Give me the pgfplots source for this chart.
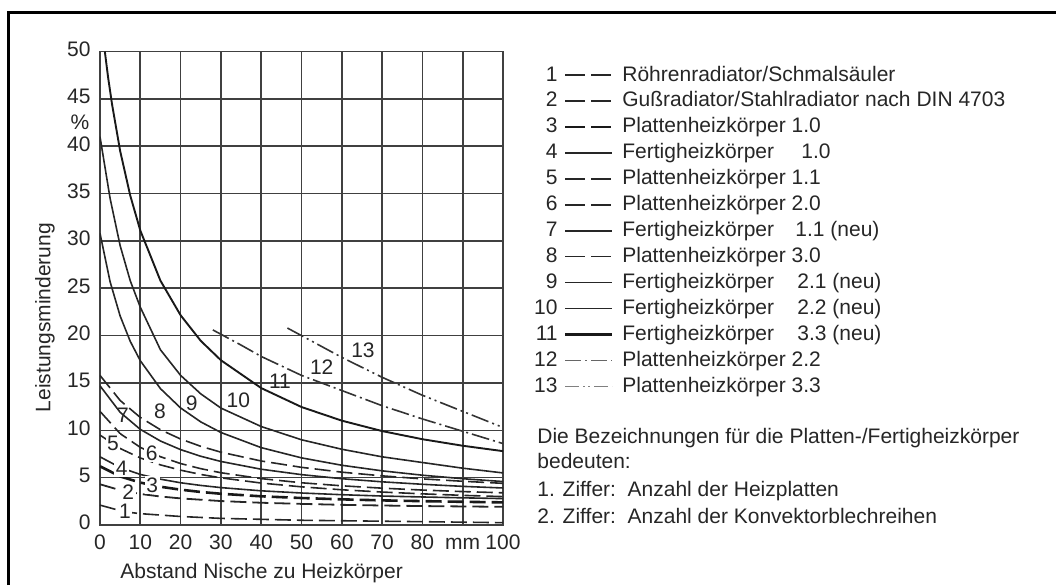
\documentclass[border=0pt]{standalone}
\usepackage{fontspec}
\setmainfont{Liberation Sans}
\usepackage{pgfplots}
\pgfplotsset{compat=1.18}

% Leistungsminderung in %, Abstand in mm
\pgfplotstableread{
x y
0 2.1
6 1.4
10 1.2
20 0.9
30 0.7
40 0.6
50 0.5
60 0.45
70 0.4
80 0.35
90 0.3
100 0.25
}\curveA
\pgfplotstableread{
x y
0 4.3
5 3.68
10 3.28
15 3.01
20 2.81
30 2.53
40 2.35
50 2.23
60 2.13
70 2.06
80 2.0
90 1.96
100 1.92
}\curveB
\pgfplotstableread{
x y
0 6.2
5 5.13
10 4.48
15 4.04
20 3.73
25 3.49
30 3.3
40 3.03
50 2.85
60 2.71
70 2.6
80 2.52
90 2.45
100 2.39
}\curveC
\pgfplotstableread{
x y
0 7.2
5 6.07
10 5.34
15 4.84
20 4.46
25 4.18
30 3.95
40 3.61
50 3.38
60 3.2
70 3.06
80 2.96
90 2.87
100 2.79
}\curveD
\pgfplotstableread{
x y
0 9.5
5 8.08
10 7.08
15 6.35
20 5.79
25 5.34
30 4.98
40 4.43
50 4.03
60 3.72
70 3.48
80 3.29
90 3.13
100 3.0
}\curveE
\pgfplotstableread{
x y
0 12.0
5 9.65
10 8.2
15 7.21
20 6.49
25 5.95
30 5.52
40 4.9
50 4.46
60 4.14
70 3.89
80 3.69
90 3.53
100 3.4
}\curveF
\pgfplotstableread{
x y
0 14.7
5 11.9
10 10.1
15 8.87
20 7.96
25 7.26
30 6.71
40 5.89
50 5.32
60 4.89
70 4.56
80 4.3
90 4.08
100 3.91
}\curveG
\pgfplotstableread{
x y
0 15.8
5 13.15
10 11.36
15 10.06
20 9.08
25 8.31
30 7.69
40 6.76
50 6.09
60 5.58
70 5.19
80 4.87
90 4.62
100 4.4
}\curveH
\pgfplotstableread{
x y
0 30.8
2.5 25.7
5 22.07
7.5 19.4
10 17.35
15 14.4
20 12.36
25 10.89
30 9.77
40 8.17
50 7.09
60 6.31
70 5.72
80 5.26
90 4.89
100 4.59
}\curveI
\pgfplotstableread{
x y
0 41.0
2.5 34.5
5 29.5
7.5 25.8
10 23.0
15 18.5
20 15.8
25 13.85
30 12.35
40 10.4
50 9.0
60 8.0
70 7.2
80 6.6
90 6.0
100 5.5
}\curveJ
\pgfplotstableread{
x y
1.2 50.0
2 47.3
3 44.4
5 39.5
7.5 34.8
10 31.1
15 25.8
20 22.15
25 19.45
30 17.4
40 14.46
50 12.46
60 11.02
70 9.92
80 9.06
90 8.37
100 7.8
}\curveK
\pgfplotstableread{
x y
28 20.6
35 19.0
40 17.8
50 15.8
60 14.2
70 12.6
80 11.2
90 9.9
100 8.6
}\curveL
\pgfplotstableread{
x y
46.5 20.8
50 20.0
60 17.7
70 15.6
80 13.7
90 12.0
100 10.3
}\curveM

\begin{document}
\fontsize{10.5}{12}\selectfont
\begin{tikzpicture}
\useasboundingbox (0,0) rectangle (528pt,-292.5pt);
\draw[line width=1.5pt] (4pt,-292.5pt) -- (4pt,-6pt) -- (528pt,-6pt);

\begin{axis}[
at={(50pt,-262.5pt)}, anchor=south west,
scale only axis,
width=201.5pt, height=236.75pt,
xmin=0, xmax=100, ymin=0, ymax=50,
xtick={0,10,...,100},
xticklabels={0,10,20,30,40,50,60,70,80,mm,100},
ytick={0,5,...,50},
major tick length=0pt,
xmajorgrids, ymajorgrids,
grid style={line width=0.8pt, black!75},
axis line style={line width=0.9pt, black!75},
tick label style={font=\fontsize{10.5}{12}\selectfont, black!85},
typeset ticklabels with strut,
/pgf/number format/assume math mode=true,
yticklabel style={xshift=-1pt},
clip=true,
]
\addplot[black!85, line width=0.8pt, dash pattern=on 8pt off 3pt] table {\curveA};
\addplot[black!85, line width=0.9pt, dash pattern=on 8pt off 3pt] table {\curveB};
\addplot[black!90, line width=1.3pt, dash pattern=on 8pt off 3pt] table {\curveC};
\addplot[black!85, line width=0.8pt] table {\curveD};
\addplot[black!85, line width=0.8pt, dash pattern=on 8pt off 3pt] table {\curveE};
\addplot[black!85, line width=0.8pt, dash pattern=on 8pt off 3pt] table {\curveF};
\addplot[black!85, line width=0.8pt] table {\curveG};
\addplot[black!85, line width=0.8pt, dash pattern=on 8pt off 3pt] table {\curveH};
\addplot[black!85, line width=0.8pt] table {\curveI};
\addplot[black!85, line width=0.8pt] table {\curveJ};
\addplot[black!90, line width=0.95pt] table {\curveK};
\addplot[black!80, line width=0.8pt, dash pattern=on 9pt off 2pt on 1pt off 2pt] table {\curveL};
\addplot[black!80, line width=0.8pt, dash pattern=on 9pt off 2pt on 1pt off 2pt on 1pt off 2pt] table {\curveM};
\end{axis}

\begin{scope}[x=0.5pt, y=-0.5pt, every node/.style={inner sep=0pt, text=black!85}]
% curve numbers
\foreach \px/\py/\t in {125/511.7/1, 128.3/491.7/2, 152.3/485/3, 121.7/468.3/4, 113/443/5, 151.7/453.3/6}
  \node[fill=white, inner sep=0.8pt] at (\px,\py) {\t};
\foreach \px/\py/\t in {123/415/7, 160/411.7/8, 191.7/403.3/9, 238.3/400/10, 280/381.7/11, 321.7/366.7/12, 363/350/13}
  \node at (\px,\py) {\t};
% axis texts
\node at (80,122) {\%};
\node[rotate=90] at (45,317.5) {Leistungsminderung};
\node[anchor=base west] at (120,578) {Abstand Nische zu Heizk\"orper};
% key
\foreach \n/\t [count=\i from 0] in {1/{R\"ohrenradiator/Schmals\"auler}, 2/{Gu\ss radiator/Stahlradiator nach DIN 4703}, 3/{Plattenheizk\"orper 1.0}, 4/{Fertigheizk\"orper}, 5/{Plattenheizk\"orper 1.1}, 6/{Plattenheizk\"orper 2.0}, 7/{Fertigheizk\"orper}, 8/{Plattenheizk\"orper 3.0}, 9/{Fertigheizk\"orper}, 10/{Fertigheizk\"orper}, 11/{Fertigheizk\"orper}, 12/{Plattenheizk\"orper 2.2}, 13/{Plattenheizk\"orper 3.3}}
{
  \node[anchor=base east] at (558, 81+25.95*\i) {\n};
  \node[anchor=base west] at (622, 81+25.95*\i) {\t};
}
\foreach \i/\t/\px in {3/{1.0}/801, 6/{1.1 (neu)}/795, 8/{2.1 (neu)}/797, 9/{2.2 (neu)}/797, 10/{3.3 (neu)}/797}
  \node[anchor=base west] at (\px, 81+25.95*\i) {\t};
\draw[black!85, line width=0.8pt, dash pattern=on 10pt off 3pt] (565,75) -- (612,75);
\draw[black!85, line width=1.0pt, dash pattern=on 10pt off 3pt] (565,100.95) -- (612,100.95);
\draw[black!90, line width=1.4pt, dash pattern=on 10pt off 3pt] (565,126.9) -- (612,126.9);
\draw[black!85, line width=0.8pt] (565,152.85) -- (612,152.85);
\draw[black!85, line width=0.8pt, dash pattern=on 10pt off 3pt] (565,178.8) -- (612,178.8);
\draw[black!85, line width=0.8pt, dash pattern=on 10pt off 3pt] (565,204.75) -- (612,204.75);
\draw[black!85, line width=0.8pt] (565,230.7) -- (612,230.7);
\draw[black!85, line width=0.8pt, dash pattern=on 10pt off 3pt] (565,256.65) -- (612,256.65);
\draw[black!85, line width=0.8pt] (565,282.6) -- (612,282.6);
\draw[black!85, line width=0.8pt] (565,308.55) -- (612,308.55);
\draw[black!90, line width=1.3pt] (565,334.5) -- (612,334.5);
\draw[black!60, line width=0.8pt, dash pattern=on 8pt off 2pt on 1pt off 2pt] (565,360.45) -- (612,360.45);
\draw[black!50, line width=0.8pt, dash pattern=on 7pt off 2pt on 1pt off 1.5pt on 1pt off 2pt] (565,386.4) -- (612,386.4);
% explanation
\node[anchor=base west] at (537,443) {Die Bezeichnungen f\"ur die Platten-/Fertigheizk\"orper};
\node[anchor=base west] at (537,468) {bedeuten:};
\node[anchor=base west] at (537,496) {1. Ziffer:\ \ Anzahl der Heizplatten};
\node[anchor=base west] at (537,523) {2. Ziffer:\ \ Anzahl der Konvektorblechreihen};
\end{scope}
\end{tikzpicture}
\end{document}
